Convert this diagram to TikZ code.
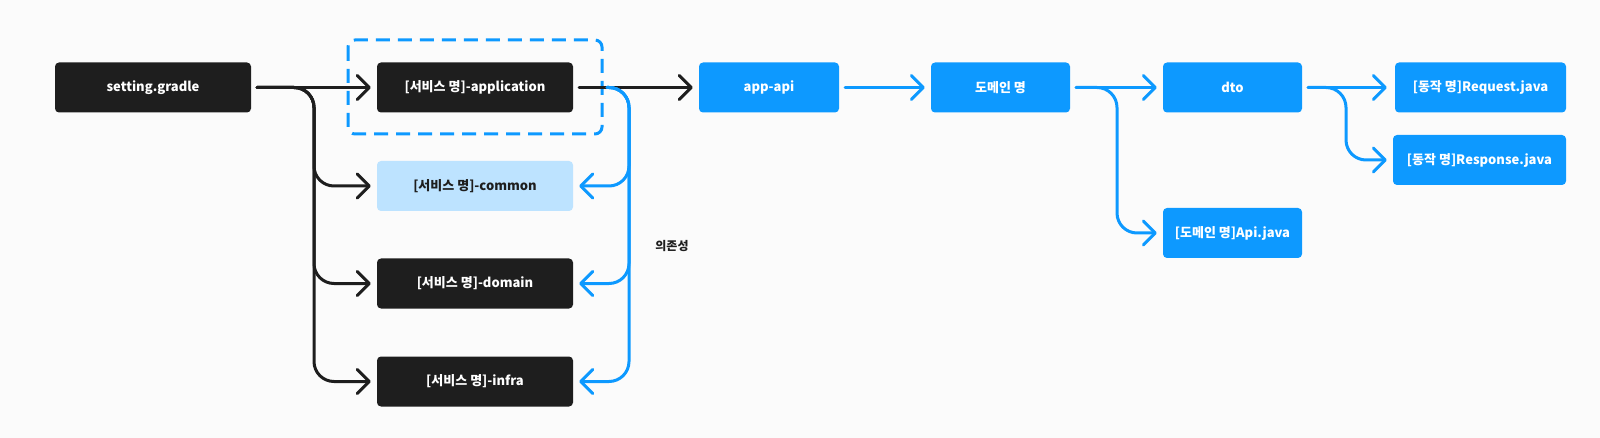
\documentclass[tikz,border=0pt]{standalone}
\usepackage{fontspec}
\setmainfont{Noto Sans CJK KR}
\usetikzlibrary{arrows.meta}
\definecolor{boxdark}{HTML}{1E1E1E}
\definecolor{boxblue}{HTML}{0D99FF}
\definecolor{boxlight}{HTML}{BDE3FF}
\definecolor{bgpaper}{HTML}{FBFBFB}
\tikzset{
  modbox/.style={rounded corners=4pt, minimum height=50pt, inner sep=0pt,
    font=\bfseries\fontsize{13}{15}\selectfont},
  darkbox/.style={modbox, fill=boxdark, text=white, minimum width=196pt},
  lightbox/.style={modbox, fill=boxlight, text=boxdark, minimum width=196pt},
  bluebox/.style={modbox, fill=boxblue, text=white, minimum width=139pt},
  link/.style={line width=3pt, line cap=round, rounded corners=20pt,
    shorten <=6pt, shorten >=6pt,
    -{Straight Barb[length=12pt,width=24pt,round]}},
  darklink/.style={link, draw=boxdark},
  bluelink/.style={link, draw=boxblue}
}
\begin{document}
\begin{tikzpicture}[x=1pt,y=-1pt]
  \fill[bgpaper] (0,0) rectangle (1600,438);
  \useasboundingbox (0,0) rectangle (1600,438);

  \draw[boxblue, line width=3pt, dash pattern=on 14pt off 8pt, rounded corners=7pt]
    (348,40) rectangle (602,134);

  \node[darkbox] (gradle) at (153,87.5) {setting.gradle};
  \node[darkbox] (application) at (475,87.5) {[서비스 명]-application};
  \node[lightbox] (common) at (475,186) {[서비스 명]-common};
  \node[darkbox] (domain) at (475,283.5) {[서비스 명]-domain};
  \node[darkbox] (infra) at (475,381.5) {[서비스 명]-infra};

  \node[bluebox, minimum width=140pt] (appapi) at (769,87.5) {app-api};
  \node[bluebox] (domainname) at (1000.5,87.5) {도메인 명};
  \node[bluebox] (dto) at (1232.5,87.5) {dto};
  \node[bluebox] (apijava) at (1232.5,233) {[도메인 명]Api.java};
  \node[bluebox, minimum width=171pt] (request) at (1480.5,87.5) {[동작 명]Request.java};
  \node[bluebox, minimum width=173pt] (response) at (1479.5,160) {[동작 명]Response.java};

  \node[font=\bfseries\fontsize{12}{14}\selectfont, text=boxdark] (deplabel) at (672,246) {의존성};

  \coordinate (gtrunk) at (314,87.5);
  \coordinate (depstart) at (607,87.5);
  \coordinate (deptrunk) at (629,87.5);
  \coordinate (dtrunk) at (1117,87.5);
  \coordinate (rtrunk) at (1346,87.5);

  \draw[darklink] (gradle.east) -- (application.west);
  \draw[darklink] (gradle.east) -- (gtrunk) |- (common.west);
  \draw[darklink] (gradle.east) -- (gtrunk) |- (domain.west);
  \draw[darklink] (gradle.east) -- (gtrunk) |- (infra.west);
  \draw[darklink] (application.east) -- (appapi.west);

  \draw[bluelink, shorten <=0pt] (depstart) -- (deptrunk) |- (common.east);
  \draw[bluelink, shorten <=0pt] (depstart) -- (deptrunk) |- (domain.east);
  \draw[bluelink, shorten <=0pt] (depstart) -- (deptrunk) |- (infra.east);

  \draw[bluelink] (appapi.east) -- (domainname.west);
  \draw[bluelink] (domainname.east) -- (dto.west);
  \draw[bluelink] (domainname.east) -- (dtrunk) |- (apijava.west);
  \draw[bluelink, shorten >=8pt] (dto.east) -- (request.west);
  \draw[bluelink] (dto.east) -- (rtrunk) |- (response.west);
\end{tikzpicture}
\end{document}
